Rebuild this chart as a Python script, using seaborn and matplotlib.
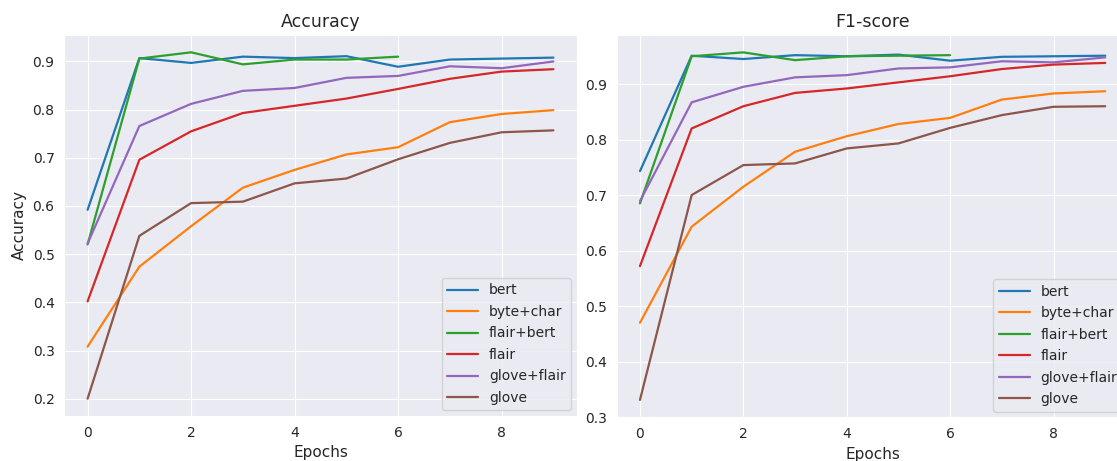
import numpy as np
import pandas as pd
import matplotlib
matplotlib.use("Agg")
import matplotlib.pyplot as plt
import seaborn as sns

# Training curves per embedding configuration
models = ["bert", "byte+char", "flair+bert", "flair", "glove+flair", "glove"]

acc_bert = [0.592, 0.907, 0.897, 0.910, 0.907, 0.911, 0.889, 0.904, 0.906, 0.908]
acc_byte_char = [0.308, 0.474, 0.558, 0.638, 0.675, 0.707, 0.722, 0.774, 0.791, 0.799]
acc_flair_bert = [0.520, 0.906, 0.919, 0.894, 0.904, 0.904, 0.910]
acc_flair = [0.402, 0.696, 0.755, 0.793, 0.808, 0.823, 0.843, 0.864, 0.879, 0.884]
acc_glove_flair = [0.522, 0.766, 0.812, 0.839, 0.845, 0.866, 0.870, 0.890, 0.886, 0.900]
acc_glove = [0.200, 0.538, 0.606, 0.609, 0.647, 0.657, 0.697, 0.731, 0.753, 0.757]

f1_bert = [0.743, 0.951, 0.945, 0.952, 0.950, 0.953, 0.942, 0.949, 0.950, 0.951]
f1_byte_char = [0.470, 0.643, 0.715, 0.778, 0.806, 0.828, 0.839, 0.872, 0.883, 0.887]
f1_flair_bert = [0.685, 0.950, 0.957, 0.943, 0.950, 0.951, 0.952]
f1_flair = [0.572, 0.820, 0.860, 0.884, 0.892, 0.903, 0.914, 0.927, 0.935, 0.938]
f1_glove_flair = [0.689, 0.867, 0.895, 0.912, 0.916, 0.928, 0.930, 0.941, 0.939, 0.948]
f1_glove = [0.331, 0.700, 0.754, 0.757, 0.784, 0.793, 0.821, 0.844, 0.859, 0.860]

acc_series = [acc_bert, acc_byte_char, acc_flair_bert, acc_flair, acc_glove_flair, acc_glove]
f1_series = [f1_bert, f1_byte_char, f1_flair_bert, f1_flair, f1_glove_flair, f1_glove]


def to_long(series, metric):
    rows = []
    for name, vals in zip(models, series):
        for epoch, v in enumerate(vals):
            rows.append({"Epochs": epoch, metric: v, "model": name})
    return pd.DataFrame(rows)


sns.set_style("darkgrid")
plt.rcParams["font.family"] = ["DejaVu Sans"]

W, H = 1117, 461
fig = plt.figure(figsize=(W / 100, H / 100), dpi=100)

ax1 = fig.add_axes([64.3 / W, (H - 416) / H, 512.4 / W, 381 / H])
ax2 = fig.add_axes([616.7 / W, (H - 417.3) / H, 511.8 / W, 382.3 / H])

palette = dict(zip(models, sns.color_palette("tab10", 6)))

panels = [
    (ax1, to_long(acc_series, "Accuracy"), "Accuracy", "Accuracy", "Accuracy"),
    (ax2, to_long(f1_series, "F1-score"), "F1-score", "F1-score", ""),
]

for ax, df, metric, title, ylabel in panels:
    sns.lineplot(data=df, x="Epochs", y=metric, hue="model", hue_order=models,
                 palette=palette, linewidth=1.6, ax=ax)
    ax.set_title(title, fontsize=12.5, color=".15")
    ax.set_xlabel("Epochs", fontsize=11, color=".15", labelpad=4)
    ax.set_ylabel(ylabel, fontsize=11, color=".15")
    ax.tick_params(labelsize=10, colors=".15")
    ax.set_xticks([0, 2, 4, 6, 8])
    leg = ax.legend(loc="lower right", fontsize=10, title=None,
                    labelspacing=0.54, handlelength=2.2, borderaxespad=0.4)

fig.savefig("out.png", dpi=100)
